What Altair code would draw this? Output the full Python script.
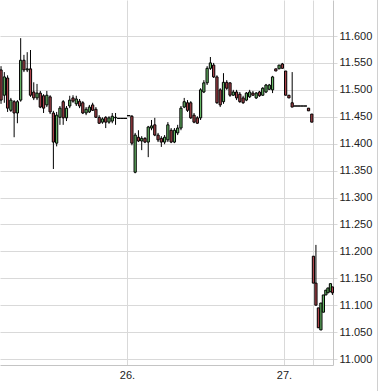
import altair as alt
import pandas as pd

# --- 30-minute candles (section A), prices in EUR ---
open_a = [11.537, 11.490, 11.522, 11.462, 11.478, 11.457, 11.481, 11.555, 11.537, 11.539,
          11.496, 11.485, 11.494, 11.489, 11.472, 11.487, 11.457, 11.401, 11.449, 11.478,
          11.448, 11.470, 11.485, 11.474, 11.479, 11.476, 11.457, 11.459, 11.472, 11.464,
          11.449, 11.440, 11.449, 11.440, 11.442, 11.448, 11.447, 11.447, 11.447, 11.452,
          11.451, 11.347, 11.412, 11.405, 11.410, 11.403, 11.429, 11.435, 11.416, 11.410,
          11.403, 11.407, 11.425, 11.403, 11.420, 11.429, 11.468, 11.476, 11.476, 11.453,
          11.448, 11.448, 11.496, 11.513, 11.540, 11.546, 11.524, 11.500, 11.478, 11.514,
          11.513, 11.490, 11.496, 11.492, 11.485, 11.481, 11.487, 11.494, 11.485, 11.496,
          11.490, 11.496, 11.501, 11.500, 11.539, 11.539, 11.548, 11.535, 11.490, 11.476,
          11.470, 11.470, 11.470, 11.470, 11.466, 11.455]
high_a = [11.544, 11.533, 11.527, 11.485, 11.481, 11.481, 11.596, 11.565, 11.570, 11.574,
          11.514, 11.511, 11.498, 11.492, 11.498, 11.490, 11.461, 11.459, 11.470, 11.481,
          11.470, 11.489, 11.490, 11.489, 11.483, 11.479, 11.468, 11.472, 11.476, 11.468,
          11.453, 11.449, 11.451, 11.451, 11.457, 11.457, 11.447, 11.447, 11.447, 11.452,
          11.453, 11.420, 11.425, 11.414, 11.412, 11.433, 11.444, 11.448, 11.420, 11.414,
          11.416, 11.440, 11.429, 11.429, 11.435, 11.470, 11.485, 11.481, 11.479, 11.457,
          11.451, 11.503, 11.518, 11.544, 11.561, 11.550, 11.527, 11.503, 11.531, 11.518,
          11.514, 11.500, 11.500, 11.496, 11.489, 11.496, 11.500, 11.498, 11.496, 11.498,
          11.505, 11.511, 11.511, 11.526, 11.539, 11.546, 11.550, 11.535, 11.490, 11.533,
          11.470, 11.470, 11.470, 11.470, 11.466, 11.455]
low_a = [11.474, 11.476, 11.459, 11.459, 11.412, 11.438, 11.478, 11.533, 11.533, 11.487,
         11.481, 11.481, 11.466, 11.457, 11.468, 11.455, 11.353, 11.395, 11.435, 11.435,
         11.442, 11.466, 11.476, 11.470, 11.466, 11.455, 11.453, 11.457, 11.461, 11.448,
         11.437, 11.437, 11.429, 11.437, 11.438, 11.435, 11.447, 11.447, 11.447, 11.452,
         11.397, 11.345, 11.403, 11.388, 11.401, 11.375, 11.425, 11.414, 11.403, 11.394,
         11.399, 11.403, 11.401, 11.401, 11.416, 11.425, 11.466, 11.459, 11.446, 11.438,
         11.437, 11.444, 11.494, 11.509, 11.537, 11.522, 11.474, 11.468, 11.474, 11.500,
         11.487, 11.489, 11.481, 11.476, 11.474, 11.479, 11.485, 11.489, 11.483, 11.487,
         11.489, 11.494, 11.500, 11.494, 11.535, 11.539, 11.540, 11.490, 11.485, 11.468,
         11.470, 11.470, 11.470, 11.470, 11.461, 11.440]
close_a = [11.481, 11.524, 11.466, 11.481, 11.457, 11.478, 11.555, 11.537, 11.539, 11.490,
           11.485, 11.494, 11.468, 11.466, 11.490, 11.459, 11.403, 11.453, 11.466, 11.448,
           11.466, 11.481, 11.479, 11.483, 11.470, 11.457, 11.464, 11.468, 11.462, 11.449,
           11.438, 11.446, 11.440, 11.448, 11.451, 11.449, 11.447, 11.447, 11.447, 11.452,
           11.401, 11.416, 11.405, 11.410, 11.403, 11.431, 11.433, 11.416, 11.407, 11.403,
           11.412, 11.435, 11.403, 11.425, 11.429, 11.466, 11.478, 11.462, 11.448, 11.440,
           11.438, 11.500, 11.513, 11.540, 11.550, 11.524, 11.476, 11.472, 11.514, 11.503,
           11.490, 11.496, 11.485, 11.478, 11.476, 11.494, 11.496, 11.490, 11.494, 11.489,
           11.503, 11.509, 11.509, 11.524, 11.535, 11.546, 11.540, 11.490, 11.485, 11.468,
           11.470, 11.470, 11.470, 11.470, 11.461, 11.440]

# --- last session after the gap (section B) ---
time_b = [28.50, 28.88, 29.26, 29.64, 30.02, 30.40, 30.72, 31.10, 31.40]
open_b = [11.191, 11.141, 11.095, 11.054, 11.087, 11.119, 11.123, 11.125, 11.134]
high_b = [11.191, 11.212, 11.095, 11.104, 11.119, 11.128, 11.132, 11.140, 11.134]
low_b = [11.141, 11.100, 11.058, 11.054, 11.087, 11.119, 11.123, 11.125, 11.119]
close_b = [11.141, 11.100, 11.058, 11.104, 11.119, 11.128, 11.132, 11.140, 11.123]

# hours relative to the 26th, 00:00; section A is a regular 30-minute grid
start_a = -19.25
time_a = [start_a + 0.5 * i for i in range(len(open_a))]

y_ticks = [11.0, 11.05, 11.1, 11.15, 11.2, 11.25, 11.3, 11.35, 11.4, 11.45, 11.5, 11.55, 11.6]
x_ticks = [0, 24, 28.43]

df = pd.DataFrame({
    "t": time_a + time_b,
    "o": open_a + open_b,
    "h": high_a + high_b,
    "l": low_a + low_b,
    "c": close_a + close_b,
})
df["dir"] = ["up" if c > o else ("down" if c < o else "flat") for o, c in zip(df["o"], df["c"])]

grid_col = "#d9d9d9"
xs = alt.Scale(domain=[-19.41, 31.49], nice=False, zero=False)
ys = alt.Scale(domain=[10.9889, 11.6669], nice=False, zero=False)
x_axis = alt.Axis(values=x_ticks, title=None, ticks=False, grid=True, gridColor=grid_col,
                  domainColor="#c4c4c4", labelPadding=4,
                  labelExpr="datum.value == 0 ? '26.' : (datum.value == 24 ? '27.' : '')")
y_axis = alt.Axis(values=y_ticks, orient="right", format=".3f", title=None, grid=True,
                  gridColor=grid_col, tickColor=grid_col, tickSize=4, labelPadding=2,
                  domainColor="#c4c4c4")

wicks = alt.Chart(df).mark_rule(color="black", strokeWidth=1).encode(
    x=alt.X("t:Q", scale=xs, axis=x_axis),
    y=alt.Y("l:Q", scale=ys, axis=y_axis),
    y2="h:Q",
)

bodies = alt.Chart(df).transform_calculate(
    hw="datum.o == datum.c ? 0.25 : 0.17"
).transform_calculate(
    x0="datum.t - datum.hw", x1="datum.t + datum.hw"
).mark_rect(stroke="black", strokeWidth=1).encode(
    x=alt.X("x0:Q", scale=xs, axis=x_axis),
    x2="x1:Q",
    y=alt.Y("o:Q", scale=ys, axis=y_axis),
    y2="c:Q",
    fill=alt.Fill("dir:N", scale=alt.Scale(domain=["up", "down", "flat"],
                                           range=["#66b866", "#ad434b", "#000000"]), legend=None),
)

frame = alt.Chart(pd.DataFrame({"k": [0]})).mark_rule(color="#d0d0d0", strokeWidth=1).encode(
    x=alt.value(377.5), y=alt.value(0), y2=alt.value(391)
)

chart = alt.layer(wicks, bodies, frame).properties(
    width=333, height=365,
    autosize=alt.AutoSizeParams(type="none"),
    padding={"left": 0, "top": 0, "right": 47, "bottom": 26},
).configure_view(stroke=None).configure_axis(
    labelFont="Liberation Sans", labelFontSize=11, labelColor="#222222"
)

chart.save("out.html", embed_options={"renderer": "svg", "actions": False})
